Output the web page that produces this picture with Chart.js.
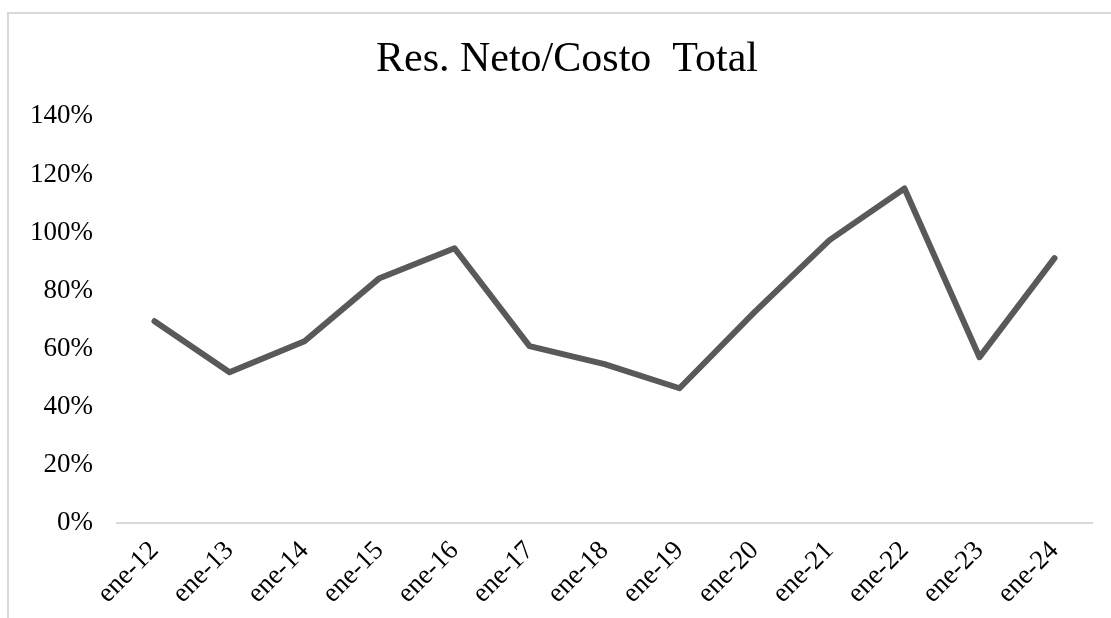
<!DOCTYPE html>
<html lang="es">
<head>
    <meta charset="UTF-8">
    <title>Res. Neto/Costo Total</title>
    <script src="https://cdn.jsdelivr.net/npm/chart.js"></script>
    <style>
        html, body { margin: 0; padding: 0; background: #fff; overflow: hidden; }
        #frame {
            position: absolute; left: 7px; top: 12px; width: 1120px; height: 620px;
            border-top: 2px solid #d9d9d9; border-left: 2px solid #d9d9d9;
        }
        #wrap { position: absolute; left: 0; top: 0; width: 1111px; height: 618px; }
    </style>
</head>
<body>
    <div id="frame"></div>
    <div id="wrap"><canvas id="chart"></canvas></div>
    <script>
        // data
        const labels = ['ene-12', 'ene-13', 'ene-14', 'ene-15', 'ene-16', 'ene-17', 'ene-18',
                        'ene-19', 'ene-20', 'ene-21', 'ene-22', 'ene-23', 'ene-24'];
        const ratio = [69.5, 51.9, 62.6, 84.3, 94.6, 60.9, 54.7, 46.4, 72.6, 97.4, 115.2, 57.1, 91.2];
        const yTicks = [0, 20, 40, 60, 80, 100, 120, 140];

        const serif = '"Liberation Serif", "Times New Roman", serif';

        new Chart(document.getElementById('chart'), {
            type: 'line',
            data: {
                labels: labels,
                datasets: [{
                    data: ratio,
                    borderColor: '#595959',
                    borderWidth: 6,
                    borderCapStyle: 'round',
                    borderJoinStyle: 'round',
                    pointRadius: 0,
                    tension: 0,
                    fill: false
                }]
            },
            options: {
                responsive: true,
                maintainAspectRatio: false,
                animation: false,
                layout: { padding: { left: 0, right: 19, top: 0, bottom: 0 } },
                plugins: {
                    legend: { display: false },
                    tooltip: { enabled: false },
                    title: {
                        display: true,
                        // leading spaces nudge the centred title a bit right, like the original
                        text: '    Res. Neto/Costo  Total',
                        color: '#000',
                        font: { family: serif, size: 42, weight: 'normal' },
                        padding: { top: 35, bottom: 31 }
                    }
                },
                scales: {
                    x: {
                        offset: true,
                        grid: { display: false, drawTicks: false },
                        border: { display: true, color: '#d9d9d9', width: 2 },
                        ticks: {
                            color: '#000',
                            font: { family: serif, size: 27 },
                            minRotation: 45,
                            maxRotation: 45,
                            padding: 12
                        },
                        afterFit: s => { s.height = 95; }
                    },
                    y: {
                        min: 0,
                        max: 140,
                        afterBuildTicks: s => { s.ticks = yTicks.map(v => ({ value: v })); },
                        grid: { display: false, drawTicks: false },
                        border: { display: false },
                        ticks: {
                            color: '#000',
                            font: { family: serif, size: 27 },
                            padding: 24,
                            callback: v => v + '%'
                        },
                        afterFit: s => { s.width = 117; }
                    }
                }
            }
        });
    </script>
</body>
</html>
